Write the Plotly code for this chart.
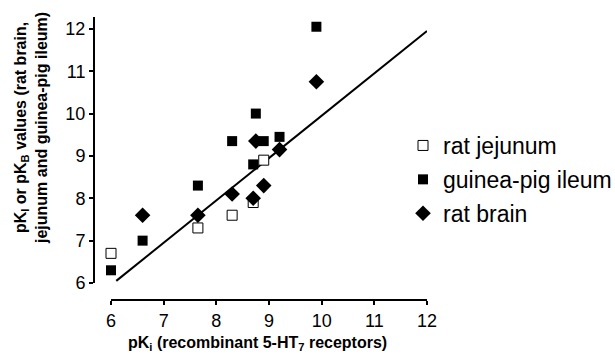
import plotly.graph_objects as go

# Data
jejunum_x = [6.0, 7.65, 8.3, 8.7, 8.9]
jejunum_y = [6.7, 7.3, 7.6, 7.9, 8.9]

ileum_x = [6.0, 6.6, 7.65, 8.3, 8.7, 8.75, 8.9, 9.2, 9.9]
ileum_y = [6.3, 7.0, 8.3, 9.35, 8.8, 10.0, 9.35, 9.45, 12.05]

brain_x = [6.6, 7.65, 8.3, 8.7, 8.75, 8.9, 9.2, 9.9]
brain_y = [7.6, 7.6, 8.1, 8.0, 9.35, 8.3, 9.15, 10.75]

line_x = [6.1, 12.0]
line_y = [6.05, 11.95]

x_ticks = [6, 7, 8, 9, 10, 11, 12]
y_ticks = [6, 7, 8, 9, 10, 11, 12]

FONT = "Liberation Sans, Arial, sans-serif"

# plot area in pixels: x 90..427, y 17..304
PL, PR, PT, PB = 90, 427, 17, 304
def px_x(p):
    return (p - PL) / (PR - PL)
def px_y(p):
    return (PB - p) / (PB - PT)

fig = go.Figure()
fig.add_trace(go.Scatter(x=line_x, y=line_y, mode="lines",
                         line=dict(color="black", width=2),
                         showlegend=False, hoverinfo="skip"))
fig.add_trace(go.Scatter(x=jejunum_x, y=jejunum_y, mode="markers", name="rat jejunum",
                         legendgroup="a",
                         marker=dict(symbol="square", size=10, color="white",
                                     line=dict(color="black", width=1)),
                         cliponaxis=False))
fig.add_trace(go.Scatter(x=ileum_x, y=ileum_y, mode="markers", name="guinea-pig ileum",
                         legendgroup="b",
                         marker=dict(symbol="square", size=10, color="black",
                                     line=dict(color="black", width=0)),
                         cliponaxis=False))
fig.add_trace(go.Scatter(x=brain_x, y=brain_y, mode="markers", name="rat brain",
                         legendgroup="c",
                         marker=dict(symbol="diamond", size=12, color="black",
                                     line=dict(color="black", width=0)),
                         cliponaxis=False))

axis_common = dict(showgrid=False, zeroline=False, showline=True, linecolor="black",
                   linewidth=2, ticks="outside", ticklen=4, tickwidth=2, tickcolor="black",
                   automargin=False,
                   tickfont=dict(family=FONT, size=18, color="black"))

fig.update_layout(
    template="none",
    width=615, height=354,
    margin=dict(l=PL, r=615 - PR, t=PT, b=354 - PB, autoexpand=False),
    paper_bgcolor="white", plot_bgcolor="white",
    xaxis=dict(range=[6, 12], domain=[px_x(111), 1], anchor="free", position=px_y(300),
               tickvals=x_ticks, **axis_common),
    yaxis=dict(range=[6, 12.28], domain=[px_y(283), 1], anchor="free", position=px_x(94),
               tickvals=y_ticks, **axis_common),
    legend=dict(x=403/615, y=1 - 124/354, xref="container", yref="container",
                xanchor="left", yanchor="top", tracegroupgap=1,
                font=dict(family=FONT, size=23, color="black"),
                bgcolor="rgba(0,0,0,0)", borderwidth=0),
    showlegend=True,
    annotations=[
        dict(text="<b>pK<sub>i</sub> (recombinant 5-HT<sub>7</sub> receptors)</b>",
             xref="paper", yref="paper", x=px_x(257), y=px_y(343),
             xanchor="center", yanchor="middle", showarrow=False,
             font=dict(family=FONT, size=16, color="black")),
        dict(text="<b>pK<sub>I</sub> or pK<sub>B</sub> values (rat brain,<br>jejunum and guinea-pig ileum)</b>",
             xref="paper", yref="paper", x=px_x(31), y=px_y(128),
             xanchor="center", yanchor="middle", showarrow=False, textangle=-90,
             font=dict(family=FONT, size=16, color="black")),
    ],
)

fig.write_html("out.html", config={"displayModeBar": False},
               post_script="document.body.style.margin='0px';document.body.style.overflow='hidden';")
